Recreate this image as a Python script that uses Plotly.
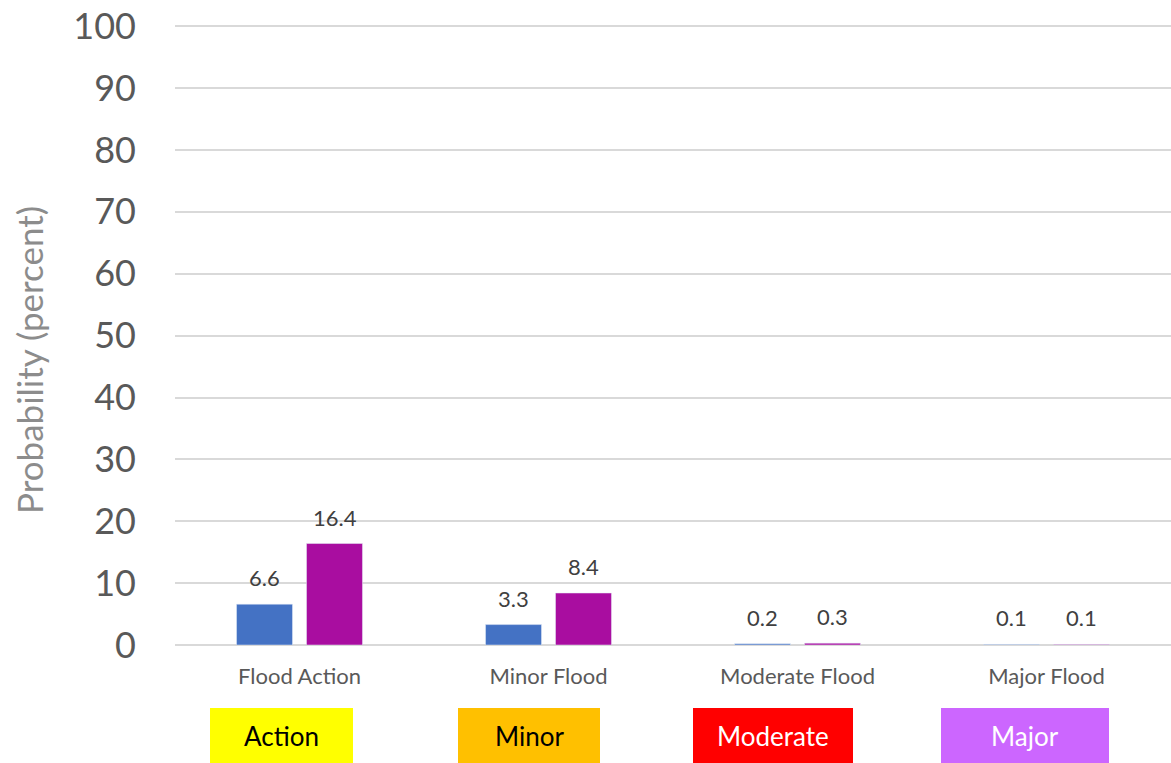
import plotly.graph_objects as go

# Flood category probabilities (percent)
categories = ["Flood Action", "Minor Flood", "Moderate Flood", "Major Flood"]
series_a = [6.6, 3.3, 0.2, 0.1]
series_b = [16.4, 8.4, 0.3, 0.1]
y_ticks = [0, 10, 20, 30, 40, 50, 60, 70, 80, 90, 100]

# Colored flood-stage tags shown under the axis
stage_labels = ["Action", "Minor", "Moderate", "Major"]
stage_fill = ["#FFFF00", "#FFC000", "#FF0000", "#CC66FF"]
stage_text = ["#000000", "#000000", "#FFFFFF", "#FFFFFF"]

W, H = 1171, 763
L, R, T, B = 175, 0, 25, 118
font = "Lato, 'Open Sans', sans-serif"
pw, ph = W - L - R, H - T - B

fig = go.Figure()
fig.add_bar(x=categories, y=series_a, marker_color="#4472C4", name="A")
fig.add_bar(x=categories, y=series_b, marker_color="#A90DA0", name="B")

# Value labels above each bar
offset = 0.1406
annotations = []
for i, (a, b) in enumerate(zip(series_a, series_b)):
    for xv, v in ((i - offset, a), (i + offset, b)):
        annotations.append(dict(
            x=xv, y=v, xref="x", yref="y", text=f"{v:.1f}", showarrow=False,
            yanchor="bottom", yshift=11, font=dict(family=font, size=22, color="#404040")))

# Y-axis title
annotations.append(dict(
    x=(29 - L) / pw, y=(H - B - 360) / ph, xref="paper", yref="paper",
    text="Probability (percent)", showarrow=False, textangle=-90,
    xanchor="center", yanchor="middle",
    font=dict(family=font, size=35, color="#8c8c8c")))

# Stage tag boxes, positioned in pixel terms converted to paper coordinates
boxes_px = [(210, 353), (458, 600), (693, 853), (941, 1109)]
shapes = []
for (x0, x1), lab, fill, tc in zip(boxes_px, stage_labels, stage_fill, stage_text):
    px0, px1 = (x0 - L) / pw, (x1 - L) / pw
    py0 = -(763 - (H - B)) / ph
    py1 = -(708 - (H - B)) / ph
    shapes.append(dict(type="rect", xref="paper", yref="paper", x0=px0, x1=px1,
                       y0=py0, y1=py1, fillcolor=fill, line_width=0, layer="above"))
    annotations.append(dict(x=(px0 + px1) / 2, y=(py0 + py1) / 2, xref="paper", yref="paper",
                            text=lab, showarrow=False, xanchor="center", yanchor="middle",
                            font=dict(family=font, size=26, color=tc)))

fig.update_layout(
    width=W, height=H, margin=dict(l=L, r=R, t=T, b=B),
    paper_bgcolor="white", plot_bgcolor="white",
    barmode="group", bargap=0.438, bargroupgap=0.2, showlegend=False,
    shapes=shapes, annotations=annotations,
    font=dict(family=font),
)
fig.update_xaxes(showline=False, showgrid=False, ticks="", ticklabelstandoff=16,
                 tickfont=dict(family=font, size=22, color="#595959"))
fig.update_yaxes(range=[0, 100.2], tickvals=y_ticks, showgrid=True, gridcolor="#d9d9d9",
                 gridwidth=1.5, zeroline=True, zerolinecolor="#d9d9d9", zerolinewidth=1.5,
                 showline=False, ticks="", ticklabelstandoff=38,
                 tickfont=dict(family=font, size=36, color="#595959"))

fig.write_html("out.html")
